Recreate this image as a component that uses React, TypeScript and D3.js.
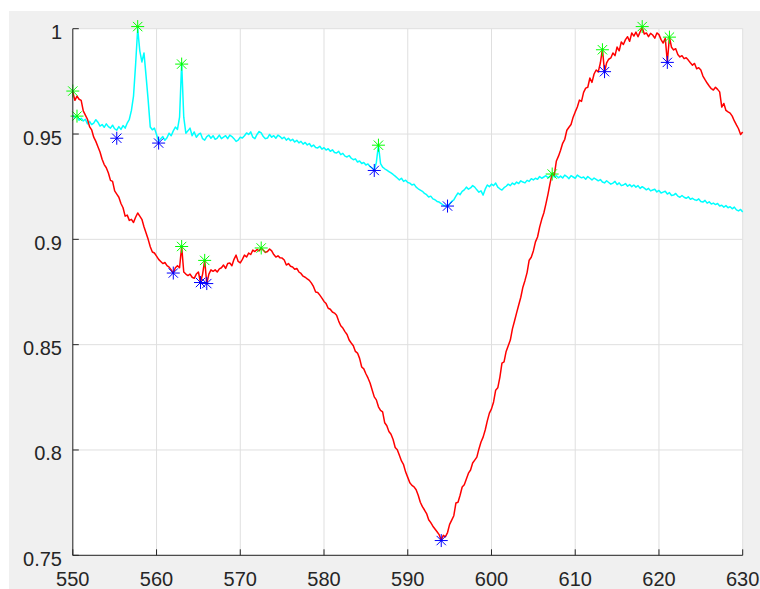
import React from "react";
import * as d3 from "d3";

// Wavelength grid: 550..630 nm, 0.25 nm step (321 samples)
const startNm = 550;
const stepNm = 0.25;

const redValues: number[] = [
  0.970, 0.966, 0.968, 0.9665,
  0.966, 0.961, 0.959, 0.957,
  0.9535, 0.952, 0.9485, 0.9465,
  0.944, 0.9415, 0.938, 0.9355,
  0.934, 0.9315, 0.928, 0.9275,
  0.923, 0.9215, 0.920, 0.917,
  0.915, 0.911, 0.9115, 0.909,
  0.9095, 0.908, 0.9105, 0.9125,
  0.911, 0.9095, 0.906, 0.903,
  0.900, 0.8965, 0.894, 0.8935,
  0.892, 0.8905, 0.8895, 0.8885,
  0.889, 0.8875, 0.8868, 0.8855,
  0.884, 0.8865, 0.8875, 0.8865,
  0.8966, 0.8845, 0.8835, 0.8828,
  0.8835, 0.882, 0.8815, 0.8835,
  0.8845, 0.8795, 0.8835, 0.890,
  0.879, 0.8835, 0.8855, 0.8848,
  0.8855, 0.8845, 0.886, 0.8865,
  0.8878, 0.8862, 0.8885, 0.8888,
  0.8875, 0.8905, 0.8925, 0.8895,
  0.8888, 0.8905, 0.8925, 0.8916,
  0.8935, 0.8928, 0.8949, 0.8942,
  0.8952, 0.8945, 0.8959, 0.8948,
  0.8938, 0.8942, 0.8954, 0.8945,
  0.8928, 0.8916, 0.8922, 0.8912,
  0.8911, 0.8902, 0.8878, 0.8885,
  0.8872, 0.8869, 0.8858, 0.8862,
  0.8845, 0.8838, 0.8825, 0.882,
  0.8812, 0.8805, 0.8792, 0.8775,
  0.875, 0.8748, 0.8735, 0.8721,
  0.8705, 0.8695, 0.8673, 0.8668,
  0.8655, 0.865, 0.864, 0.8612,
  0.859, 0.8579, 0.8562, 0.8548,
  0.8522, 0.8508, 0.8495, 0.8468,
  0.846, 0.8435, 0.8394, 0.8385,
  0.8362, 0.8342, 0.8318, 0.8285,
  0.8252, 0.8238, 0.8205, 0.8188,
  0.8181, 0.8129, 0.8115, 0.8088,
  0.8075, 0.805, 0.8012, 0.8001,
  0.7975, 0.7948, 0.793, 0.7895,
  0.787, 0.7844, 0.7832, 0.7825,
  0.7811, 0.7785, 0.7752, 0.7731,
  0.7715, 0.7698, 0.7669, 0.7655,
  0.7638, 0.7625, 0.7612, 0.7598,
  0.7572, 0.7595, 0.7588, 0.7608,
  0.7647, 0.7667, 0.7688, 0.7748,
  0.7752, 0.7785, 0.7824, 0.7835,
  0.7862, 0.789, 0.7905, 0.7938,
  0.7952, 0.7966, 0.8005, 0.8038,
  0.8061, 0.8095, 0.8138, 0.8175,
  0.8195, 0.8228, 0.8284, 0.8295,
  0.8345, 0.8412, 0.8418, 0.8468,
  0.8495, 0.8522, 0.8575, 0.8612,
  0.8651, 0.8688, 0.8725, 0.8773,
  0.8805, 0.8842, 0.8901, 0.8915,
  0.8945, 0.8988, 0.9011, 0.9058,
  0.9095, 0.9125, 0.9168, 0.9215,
  0.9267, 0.9314, 0.9305, 0.9372,
  0.9395, 0.9423, 0.9456, 0.9475,
  0.9518, 0.9532, 0.9545, 0.958,
  0.9605, 0.9628, 0.9661, 0.9655,
  0.9698, 0.9718, 0.9722, 0.9766,
  0.9745, 0.9785, 0.9804, 0.9795,
  0.9837, 0.9904, 0.9794, 0.9838,
  0.9855, 0.9861, 0.9885, 0.9872,
  0.9913, 0.9895, 0.9937, 0.9925,
  0.9948, 0.9962, 0.994, 0.998,
  0.9965, 0.9984, 0.9962, 0.9985,
  1.0005, 0.9975, 0.998, 0.9962,
  0.9978, 0.997, 0.9955, 0.998,
  0.9972, 0.9948, 0.9932, 0.9955,
  0.9842, 0.996, 0.9912, 0.9899,
  0.9905, 0.9878, 0.9866, 0.9872,
  0.9858, 0.9862, 0.9851, 0.9838,
  0.9827, 0.9835, 0.981, 0.9815,
  0.9804, 0.9775, 0.9758, 0.9742,
  0.9728, 0.9715, 0.9709, 0.9722,
  0.9712, 0.970, 0.9628, 0.9645,
  0.9612, 0.9605, 0.9599, 0.9585,
  0.9562, 0.9543, 0.9525, 0.9498,
  0.951,
];

const cyanValues: number[] = [
  0.9590, 0.9578, 0.9588, 0.9565,
  0.9575, 0.9562, 0.9570, 0.9548,
  0.9560, 0.9545, 0.9552, 0.9568,
  0.9556, 0.9538, 0.9545, 0.9532,
  0.9548, 0.9535, 0.9528, 0.9542,
  0.9525, 0.9518, 0.9535, 0.9522,
  0.9540, 0.9528, 0.9552, 0.9570,
  0.9612, 0.9680, 0.9830, 1.0000,
  0.9895, 0.9842, 0.9885, 0.9775,
  0.9661, 0.9533, 0.9520, 0.9528,
  0.9498, 0.9465, 0.9478, 0.9488,
  0.9470, 0.9482, 0.9504, 0.9492,
  0.9515, 0.9533, 0.9522, 0.9580,
  0.9837, 0.9580, 0.9504, 0.9515,
  0.9528, 0.9492, 0.9510, 0.9485,
  0.9498, 0.9504, 0.9478, 0.9471,
  0.9488, 0.9495, 0.9480, 0.9492,
  0.9475, 0.9481, 0.9495, 0.9478,
  0.9485, 0.9492, 0.9478, 0.9495,
  0.9488, 0.9478, 0.9465, 0.9471,
  0.9485, 0.9481, 0.9492, 0.9505,
  0.9498, 0.9510, 0.9485, 0.9478,
  0.9498, 0.9512, 0.9505, 0.9488,
  0.9478, 0.9481, 0.9498, 0.9485,
  0.9492, 0.9480, 0.9495, 0.9488,
  0.9478, 0.9485, 0.9471, 0.9480,
  0.9468, 0.9475, 0.9462, 0.9470,
  0.9458, 0.9465, 0.9452, 0.9460,
  0.9448, 0.9455, 0.9440, 0.9448,
  0.9436, 0.9434, 0.9442, 0.9428,
  0.9435, 0.9424, 0.9430, 0.9418,
  0.9425, 0.9412, 0.9410, 0.9418,
  0.9402, 0.9408, 0.9395, 0.9391,
  0.9398, 0.9385, 0.9378, 0.9382,
  0.9367, 0.9372, 0.9360, 0.9365,
  0.9353, 0.9358, 0.9345, 0.9339,
  0.9330, 0.9365, 0.9447, 0.9360,
  0.9343, 0.9335, 0.9329, 0.9322,
  0.9315, 0.9308, 0.9300, 0.9291,
  0.9282, 0.9290, 0.9275, 0.9281,
  0.9270, 0.9267, 0.9258, 0.9262,
  0.9248, 0.9240, 0.9234, 0.9228,
  0.9218, 0.9212, 0.9201, 0.9205,
  0.9192, 0.9188, 0.9180, 0.9177,
  0.9170, 0.9162, 0.9158, 0.9155,
  0.9168, 0.9180, 0.9187, 0.9205,
  0.9220, 0.9212, 0.9228, 0.9235,
  0.9248, 0.9238, 0.9244, 0.9255,
  0.9248, 0.9235, 0.9224, 0.9230,
  0.9210, 0.9238, 0.9258, 0.9250,
  0.9262, 0.9255, 0.9267, 0.9248,
  0.9240, 0.9234, 0.9245, 0.9252,
  0.9262, 0.9255, 0.9267, 0.9260,
  0.9272, 0.9265, 0.9278, 0.9272,
  0.9268, 0.9280, 0.9275, 0.9288,
  0.9282, 0.9290, 0.9285, 0.9298,
  0.9290, 0.9296, 0.9302, 0.9292,
  0.9300, 0.9310, 0.9296, 0.9302,
  0.9292, 0.9300, 0.9291, 0.9305,
  0.9298, 0.9288, 0.9302, 0.9296,
  0.9290, 0.9305, 0.9298, 0.9292,
  0.9296, 0.9285, 0.9298, 0.9290,
  0.9282, 0.9291, 0.9285, 0.9278,
  0.9284, 0.9272, 0.9268, 0.9278,
  0.9270, 0.9262, 0.9267, 0.9275,
  0.9260, 0.9268, 0.9255, 0.9258,
  0.9265, 0.9252, 0.9260, 0.9250,
  0.9258, 0.9248, 0.9255, 0.9242,
  0.9250, 0.9243, 0.9235, 0.9242,
  0.9230, 0.9234, 0.9238, 0.9225,
  0.9232, 0.9220, 0.9224, 0.9228,
  0.9215, 0.9222, 0.9208, 0.9210,
  0.9218, 0.9205, 0.9200, 0.9208,
  0.9200, 0.9195, 0.9202, 0.9190,
  0.9195, 0.9188, 0.9185, 0.9192,
  0.9180, 0.9177, 0.9185, 0.9172,
  0.9178, 0.9168, 0.9172, 0.9165,
  0.9170, 0.9158, 0.9162, 0.9153,
  0.9160, 0.9150, 0.9155, 0.9145,
  0.9153, 0.9140, 0.9135, 0.9142,
  0.9130,
];

// Detected peaks (green) and valleys (blue)
const peakX: number[] = [550.0, 550.5, 557.75, 563.0, 563.0, 565.75, 572.5, 586.5, 607.25, 613.25, 618.0, 621.25];
const peakY: number[] = [0.9704, 0.9585, 1.001, 0.9832, 0.8966, 0.890, 0.8959, 0.9447, 0.931, 0.990, 1.001, 0.996];
const valleyX: number[] = [555.25, 560.25, 562.0, 565.25, 566.0, 586.0, 594.75, 594.0, 613.5, 621.0];
const valleyY: number[] = [0.948, 0.9457, 0.884, 0.8795, 0.879, 0.9327, 0.9158, 0.757, 0.9796, 0.984];

const xTicks: number[] = [550, 560, 570, 580, 590, 600, 610, 620, 630];
const yTicks: number[] = [0.75, 0.8, 0.85, 0.9, 0.95, 1];
const yTickLabels: string[] = ["0.75", "0.8", "0.85", "0.9", "0.95", "1"];

const W = 760;
const H = 589;
const L = 72.8, R = 742.7, T = 28.7, B = 555.3;

const Asterisk = ({ cx, cy, color }: { cx: number; cy: number; color: string }) => {
  const r = 6.5;
  const d = r * 0.72;
  return (
    <g stroke={color} strokeWidth={1}>
      <line x1={cx - r} y1={cy} x2={cx + r} y2={cy} />
      <line x1={cx} y1={cy - r} x2={cx} y2={cy + r} />
      <line x1={cx - d} y1={cy - d} x2={cx + d} y2={cy + d} />
      <line x1={cx - d} y1={cy + d} x2={cx + d} y2={cy - d} />
    </g>
  );
};

export default function App() {
  const x = d3.scaleLinear().domain([550, 630]).range([L, R]);
  const y = d3.scaleLinear().domain([0.75, 1]).range([B, T]);
  const nm = (i: number) => startNm + i * stepNm;
  const line = d3
    .line<number>()
    .x((_, i) => x(nm(i)))
    .y((v) => y(v));

  const font = "Arial, 'Liberation Sans', Helvetica, sans-serif";
  const axisColor = "#262626";
  const gridColor = "#dfdfdf";

  return (
    <svg
      width={W}
      height={H}
      style={{ position: "absolute", left: 0, top: 0, display: "block" }}
    >
      <rect x={0} y={0} width={W} height={H} fill="#ffffff" />
      <rect x={9} y={11} width={W - 9} height={H - 11} fill="#f0f0f0" />
      <rect x={L} y={T} width={R - L} height={B - T} fill="#ffffff" />
      {/* grid */}
      {xTicks.map((t) => (
        <line key={"gx" + t} x1={x(t)} x2={x(t)} y1={T} y2={B} stroke={gridColor} strokeWidth={1} />
      ))}
      {yTicks.map((t) => (
        <line key={"gy" + t} x1={L} x2={R} y1={y(t)} y2={y(t)} stroke={gridColor} strokeWidth={1} />
      ))}
      {/* series */}
      <path d={line(cyanValues) || ""} fill="none" stroke="#00ffff" strokeWidth={1.5} strokeLinejoin="round" />
      <path d={line(redValues) || ""} fill="none" stroke="#ff0000" strokeWidth={1.5} strokeLinejoin="round" />
      {/* markers */}
      {peakX.map((px, i) => (
        <Asterisk key={"p" + i} cx={x(px)} cy={y(peakY[i])} color="#00ff00" />
      ))}
      {valleyX.map((vx, i) => (
        <Asterisk key={"v" + i} cx={x(vx)} cy={y(valleyY[i])} color="#0000ff" />
      ))}
      {/* axes */}
      <line x1={L} x2={L} y1={T} y2={B} stroke={axisColor} strokeWidth={1} />
      <line x1={L} x2={R} y1={B} y2={B} stroke={axisColor} strokeWidth={1} />
      {xTicks.map((t) => (
        <g key={"xt" + t}>
          <line x1={x(t)} x2={x(t)} y1={B} y2={B - 6} stroke={axisColor} />
          <text x={x(t)} y={586} textAnchor="middle" fontFamily={font} fontSize={20} fill={axisColor}>
            {t}
          </text>
        </g>
      ))}
      {yTicks.map((t, i) => (
        <g key={"yt" + t}>
          <line x1={L} x2={L + 6} y1={y(t)} y2={y(t)} stroke={axisColor} />
          <text x={62} y={y(t) + 10.5} textAnchor="end" fontFamily={font} fontSize={20} fill={axisColor}>
            {yTickLabels[i]}
          </text>
        </g>
      ))}
    </svg>
  );
}
